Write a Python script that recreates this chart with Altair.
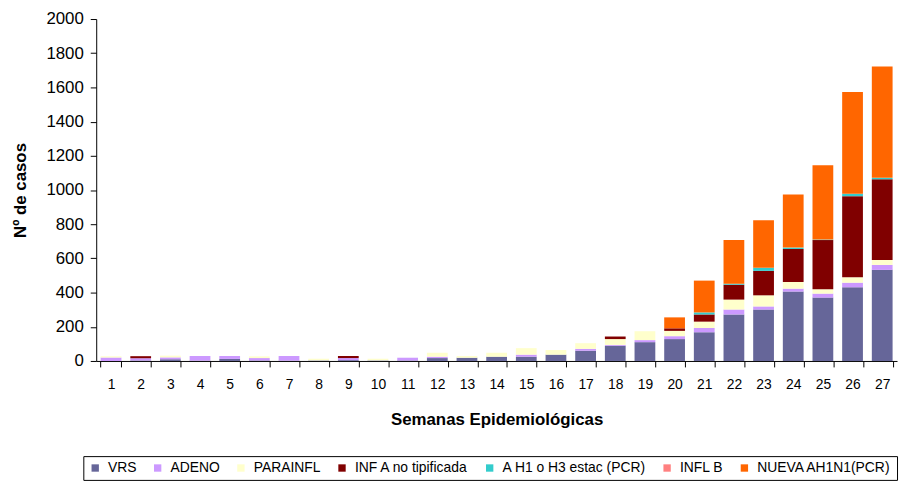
import altair as alt
import pandas as pd

semanas = [str(i) for i in range(1, 28)]

series = ["VRS", "ADENO", "PARAINFL", "INF A no tipificada",
          "A H1 o H3 estac (PCR)", "INFL B", "NUEVA AH1N1(PCR)"]
colores = ["#666699", "#CC99FF", "#FFFFCC", "#800000",
           "#33CCCC", "#FF8080", "#FF6600"]

vrs =      [0, 3, 10, 2, 12, 3, 2, 3, 5, 3, 3, 17, 19, 25, 25, 37, 60, 89, 110, 128, 168, 272, 301, 406, 371, 431, 533]
adeno =    [20, 13, 11, 27, 17, 14, 27, 0, 12, 0, 16, 8, 0, 0, 12, 0, 11, 5, 12, 17, 25, 29, 18, 17, 23, 27, 29]
parainfl = [8, 0, 10, 0, 0, 10, 0, 10, 0, 10, 0, 23, 10, 23, 38, 27, 33, 34, 52, 31, 37, 58, 65, 39, 25, 31, 29]
inf_a =    [0, 12, 0, 0, 0, 0, 0, 0, 12, 0, 0, 0, 0, 0, 0, 0, 0, 15, 0, 15, 42, 87, 143, 193, 288, 475, 472]
h1h3 =     [0, 0, 0, 0, 0, 0, 0, 0, 0, 0, 0, 0, 0, 0, 0, 0, 0, 0, 0, 0, 12, 6, 18, 8, 3, 14, 8]
infl_b =   [0, 0, 0, 0, 0, 0, 0, 0, 0, 0, 0, 0, 0, 0, 0, 0, 0, 0, 0, 0, 0, 0, 0, 0, 0, 0, 0]
nueva =    [0, 0, 0, 0, 0, 0, 0, 0, 0, 0, 0, 0, 0, 0, 0, 0, 0, 0, 0, 64, 186, 255, 278, 311, 435, 595, 651]

valores = [vrs, adeno, parainfl, inf_a, h1h3, infl_b, nueva]

rows = []
for k, (name, vals) in enumerate(zip(series, valores)):
    for s, v in zip(semanas, vals):
        rows.append({"semana": s, "serie": name, "orden": k, "casos": v})
df = pd.DataFrame(rows)

FONT = "Liberation Sans"

chart = alt.Chart(df).mark_bar().encode(
    x=alt.X("semana:N", sort=semanas,
            scale=alt.Scale(paddingInner=0.3, paddingOuter=0.15),
            axis=alt.Axis(title="Semanas Epidemiológicas", labelAngle=0,
                          tickBand="extent", tickSize=6, labelPadding=11,
                          labelFontSize=14, titleFontSize=17, titlePadding=20,
                          labelFont=FONT, titleFont=FONT, titleFontWeight="bold",
                          domainColor="#000", tickColor="#000",
                          labelColor="#000", titleColor="#000")),
    y=alt.Y("casos:Q", stack="zero",
            scale=alt.Scale(domain=[0, 2000], nice=False),
            axis=alt.Axis(title="Nº de casos", values=list(range(0, 2001, 200)),
                          format="d", grid=False, tickSize=6, labelPadding=7,
                          labelFontSize=17, titleFontSize=17, titlePadding=17,
                          labelFont=FONT, titleFont=FONT, titleFontWeight="bold",
                          domainColor="#000", tickColor="#000",
                          labelColor="#000", titleColor="#000")),
    color=alt.Color("serie:N", sort=series,
                    scale=alt.Scale(domain=series, range=colores),
                    legend=alt.Legend(title=None, orient="none",
                                      legendX=-13, legendY=441,
                                      direction="horizontal", columns=7,
                                      symbolType="square", symbolSize=55,
                                      symbolStrokeWidth=0,
                                      labelFont=FONT, labelFontSize=14,
                                      labelColor="#000",
                                      columnPadding=14, labelOffset=6,
                                      padding=5, strokeColor="#000")),
    order=alt.Order("orden:Q", sort="ascending"),
).properties(
    width=808, height=345,
    padding={"left": 89, "top": 9, "right": 4, "bottom": 122},
    autosize="none",
).configure_view(stroke=None)

chart.save("out.html", embed_options={"renderer": "svg", "actions": False})
